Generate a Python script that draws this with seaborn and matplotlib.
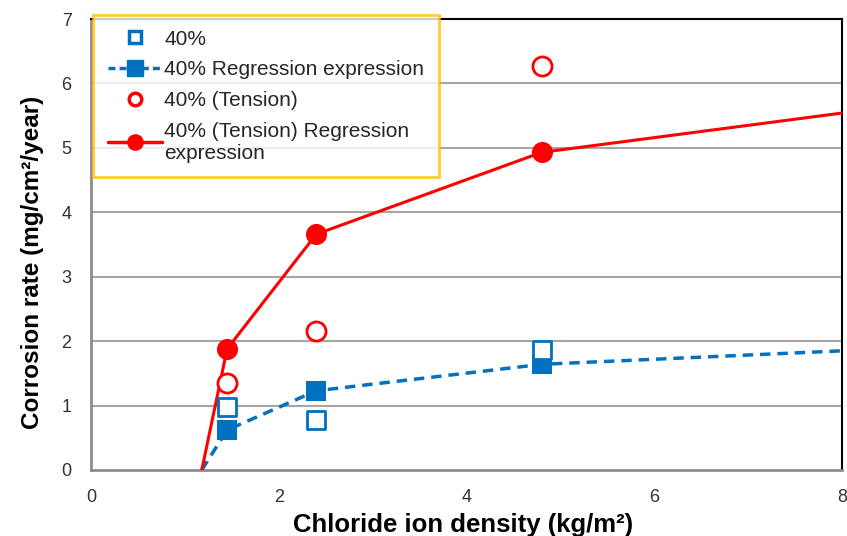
import matplotlib
matplotlib.use("Agg")
import matplotlib.pyplot as plt
from matplotlib.lines import Line2D
import seaborn as sns
import pandas as pd

# Data
chloride_x = [1.45, 2.4, 4.8]
rate_40 = [0.98, 0.77, 1.86]
rate_40_tension = [1.35, 2.16, 6.27]
reg_x = [1.18, 1.45, 2.4, 4.8, 8.0]
reg_40 = [0.0, 0.62, 1.23, 1.64, 1.85]
reg_40_tension = [0.0, 1.88, 3.66, 4.93, 5.54]
x_ticks = [0, 2, 4, 6, 8]
y_ticks = [0, 1, 2, 3, 4, 5, 6, 7]

BLUE = "#0070C0"
RED = "#FF0000"

sns.set_theme(style="white")
plt.rcParams['font.family'] = ['Liberation Sans', 'DejaVu Sans']

fig = plt.figure(figsize=(8.47, 5.36), dpi=100)
ax = fig.add_axes([91/847, 1-470/536, (842-91)/847, (470-19)/536])

ax.set_xlim(0, 8)
ax.set_ylim(0, 7)
for y in y_ticks[1:-1]:
    ax.axhline(y, color="#a6a6a6", lw=1.5, zorder=0)

reg_df = pd.DataFrame({"x": reg_x, "blue": reg_40, "red": reg_40_tension})
pts_df = pd.DataFrame({"x": chloride_x, "sq": rate_40, "ci": rate_40_tension,
                       "bfit": reg_40[1:4], "rfit": reg_40_tension[1:4]})

sns.lineplot(data=reg_df, x="x", y="blue", ax=ax, color=BLUE, lw=2.5,
             linestyle=(0, (3, 2)), sort=False, zorder=3)
sns.lineplot(data=reg_df, x="x", y="red", ax=ax, color=RED, lw=2.2,
             sort=False, zorder=3)
sns.scatterplot(data=pts_df, x="x", y="bfit", ax=ax, marker="s", s=190,
                color=BLUE, edgecolor=BLUE, linewidth=0, zorder=4)
sns.scatterplot(data=pts_df, x="x", y="rfit", ax=ax, marker="o", s=230,
                color=RED, edgecolor=RED, linewidth=0, zorder=4)
sns.scatterplot(data=pts_df, x="x", y="sq", ax=ax, marker="s", s=170,
                facecolor="white", edgecolor=BLUE, linewidth=2, zorder=5)
sns.scatterplot(data=pts_df, x="x", y="ci", ax=ax, marker="o", s=190,
                facecolor="white", edgecolor=RED, linewidth=2, zorder=5)

ax.set_xticks(x_ticks)
ax.set_yticks(y_ticks)
ax.tick_params(axis="both", length=0, labelsize=13, labelcolor="#333333")
ax.tick_params(axis="x", pad=14)
ax.tick_params(axis="y", pad=14)

ax.set_xlabel("Chloride ion density (kg/m²)", fontsize=18.5,
              fontweight="bold", color="black", labelpad=4)
ax.set_ylabel("Corrosion rate (mg/cm²/year)", fontsize=17.5,
              fontweight="bold", color="black")
ax.xaxis.set_label_coords(0.496, -0.095)
ax.yaxis.set_label_coords(-0.062, 0.46)

for side in ["left", "bottom"]:
    ax.spines[side].set_color("#8c8c8c")
    ax.spines[side].set_linewidth(2)
for side in ["top", "right"]:
    ax.spines[side].set_color("black")
    ax.spines[side].set_linewidth(1.5)

handles = [
    Line2D([], [], marker="s", linestyle="none", markersize=8,
           markerfacecolor="white", markeredgecolor=BLUE, markeredgewidth=2.5),
    Line2D([], [], marker="s", color=BLUE, linestyle=(0, (2, 1.2)), lw=2.5,
           markersize=11, markerfacecolor=BLUE),
    Line2D([], [], marker="o", linestyle="none", markersize=9,
           markerfacecolor="white", markeredgecolor=RED, markeredgewidth=2.5),
    Line2D([], [], marker="o", color=RED, lw=2.5, markersize=11,
           markerfacecolor=RED),
]
labels = ["40%", "40% Regression expression", "40% (Tension)",
          "40% (Tension) Regression\nexpression"]
leg = ax.legend(handles, labels, loc="upper left",
                bbox_to_anchor=(93/847, 1-15/536), bbox_transform=fig.transFigure,
                fontsize=15, frameon=True, fancybox=False, handlelength=2.6,
                handletextpad=0.12, borderpad=0.7, labelspacing=0.56,
                borderaxespad=0)
leg.get_frame().set_edgecolor("#FFC000")
leg.get_frame().set_linewidth(2)
leg.set_zorder(10)

fig.savefig("out.png", dpi=100)
